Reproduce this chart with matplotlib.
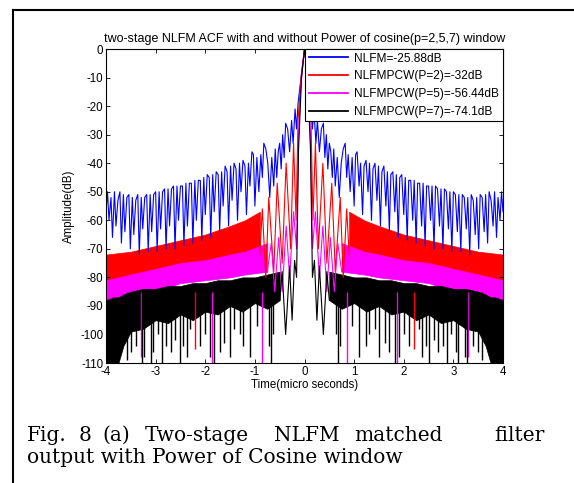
import numpy as np
import matplotlib.pyplot as plt
from matplotlib.lines import Line2D

plt.rcParams['font.family'] = ['Liberation Sans', 'DejaVu Sans']
plt.rcParams['axes.unicode_minus'] = False

# values for t >= 0 (the ACF is symmetric, mirrored below)
blue_t = [0.00, 0.07, 0.13, 0.16, 0.19, 0.23, 0.26, 0.30, 0.34, 0.38, 0.41, 0.44,
          0.47, 0.50, 0.53, 0.56, 0.59, 0.62, 0.66, 0.70, 0.74, 0.78, 0.82, 0.85,
          0.88, 0.92, 0.96, 1.00, 1.03, 1.06, 1.10, 1.13, 1.17, 1.20, 1.24, 1.28,
          1.31, 1.35, 1.38, 1.42, 1.46, 1.49, 1.53, 1.56, 1.60, 1.64, 1.67, 1.71,
          1.74, 1.78, 1.82, 1.85, 1.89, 1.92, 1.96, 2.00, 2.03, 2.07, 2.10, 2.14,
          2.18, 2.21, 2.25, 2.28, 2.32, 2.36, 2.39, 2.43, 2.46, 2.50, 2.54, 2.57,
          2.61, 2.64, 2.68, 2.72, 2.75, 2.79, 2.82, 2.86, 2.90, 2.93, 2.97, 3.00,
          3.04, 3.08, 3.11, 3.15, 3.18, 3.22, 3.26, 3.29, 3.33, 3.36, 3.40, 3.44,
          3.47, 3.51, 3.54, 3.58, 3.62, 3.65, 3.69, 3.72, 3.76, 3.80, 3.83, 3.87,
          3.90, 3.94, 3.97, 4.00]
blue_db = [0, -10, -19, -28, -21, -33, -25, -36, -28, -26, -38, -30,
           -42, -33, -36, -45, -35, -48, -38, -52, -40, -35, -33, -45,
           -37, -50, -38, -55, -37, -36, -48, -40, -58, -41, -39, -50,
           -40, -60, -42, -40, -53, -41, -62, -43, -41, -55, -43, -64,
           -44, -43, -57, -44, -66, -45, -44, -58, -45, -67, -46, -46,
           -60, -46, -68, -47, -47, -62, -47, -69, -48, -48, -60, -48,
           -70, -48, -49, -62, -49, -70, -49, -50, -63, -50, -71, -50,
           -51, -64, -51, -71, -51, -52, -63, -52, -72, -51, -53, -65,
           -52, -70, -51, -52, -64, -51, -68, -50, -53, -62, -50, -66,
           -52, -60, -50, -57]

red_t = [0.00, 0.07, 0.13, 0.17, 0.22, 0.28, 0.37, 0.45, 0.55, 0.62, 0.72, 0.78, 0.85, 0.90]
red_db = [0, -10, -25, -60, -33, -70, -40, -75, -47, -78, -52, -80, -56, -72]
red_band_t = [0.90, 1.2, 1.5, 2.0, 2.5, 3.0, 3.5, 4.0]
red_upper = [-57, -60, -62, -65, -67, -69, -71, -72]
red_lower = [-72, -73, -74, -76, -77, -79, -80, -82]
red_null_t = [2.2]
red_null_db = [-105]

mag_t = [0.00, 0.07, 0.12, 0.16, 0.22, 0.30, 0.37, 0.45, 0.52, 0.60, 0.67, 0.75]
mag_db = [0, -12, -30, -70, -57, -80, -62, -85, -66, -85, -68, -78]
mag_band_t = [0.75, 1.2, 1.5, 2.0, 2.5, 3.0, 3.5, 4.0]
mag_upper = [-68, -71, -72, -74, -75, -77, -79, -81]
mag_lower = [-78, -79, -80, -81, -82, -85, -87, -90]
mag_null_t = [0.85, 1.87, 3.3]
mag_null_db = [-110, -110, -108]

blk_t = [0.00, 0.06, 0.12, 0.16, 0.20, 0.25, 0.30, 0.38, 0.45, 0.50]
blk_db = [0, -10, -35, -80, -74, -95, -76, -100, -78, -88]
blk_band_t = [0.50, 0.75, 1.0, 1.25, 1.5, 1.75, 2.0, 2.25, 2.5, 2.75, 3.0, 3.25,
              3.5, 3.65, 3.75, 3.85, 4.0]
blk_upper = [-78, -79, -80, -80, -81, -81, -82, -82, -83, -83, -84, -84,
             -85, -86, -87, -87, -88]
blk_lower = [-88, -91, -89, -92, -90, -93, -92, -95, -93, -96, -95, -98,
             -99, -104, -110, -110, -110]
blk_null_t = [0.63, 0.68, 0.72, 0.95, 1.10, 1.23, 1.30, 1.42, 1.50, 1.63, 1.70, 1.83,
              1.90, 2.00, 2.10, 2.30, 2.37, 2.45, 2.50, 2.60, 2.70, 2.80, 2.87, 2.95,
              3.05, 3.10, 3.23, 3.27, 3.40, 3.50, 3.57]
blk_null_db = [-100, -110, -104, -97, -108, -104, -100, -98, -108, -103, -106, -110,
               -108, -100, -104, -98, -108, -104, -110, -102, -106, -104, -110, -100,
               -106, -110, -108, -110, -104, -106, -109]

legend_labels = ['NLFM=-25.88dB', 'NLFMPCW(P=2)=-32dB',
                 'NLFMPCW(P=5)=-56.44dB', 'NLFMPCW(P=7)=-74.1dB']


def mirror(t, v):
    t = np.asarray(t, dtype=float)
    v = np.asarray(v, dtype=float)
    return np.concatenate([-t[::-1], t[1:]]), np.concatenate([v[::-1], v[1:]])


def draw(ax, t, db, band_t, up, lo, null_t, null_db, color, label):
    x, y = mirror(t, db)
    ax.plot(x, y, color=color, lw=0.8, label=label)
    if band_t is None:
        return
    bt = np.asarray(band_t)
    for s in (1, -1):
        ax.fill_between(s * bt, up, lo, color=color, lw=0.5, edgecolor=color)
    nt = np.asarray(null_t)
    ax.vlines(np.concatenate([-nt, nt]), null_db + null_db, -85, color=color, lw=1.0)


fig = plt.figure(figsize=(5.74, 4.83), dpi=100)
ax = fig.add_axes([0.1847, 0.2484, 0.6916, 0.6501])

draw(ax, blue_t, blue_db, None, None, None, None, None, 'blue', legend_labels[0])
draw(ax, red_t, red_db, red_band_t, red_upper, red_lower, red_null_t, red_null_db,
     'red', legend_labels[1])
draw(ax, mag_t, mag_db, mag_band_t, mag_upper, mag_lower, mag_null_t, mag_null_db,
     'magenta', legend_labels[2])
draw(ax, blk_t, blk_db, blk_band_t, blk_upper, blk_lower, blk_null_t, blk_null_db,
     'black', legend_labels[3])

ax.set_xlim(-4, 4)
ax.set_ylim(-110, 0)
ax.set_xticks(np.arange(-4, 5, 1))
ax.set_yticks(np.arange(-110, 1, 10))
ax.tick_params(direction='in', length=3, width=0.6, labelsize=8.3, top=True, right=True, pad=2)
for sp in ax.spines.values():
    sp.set_linewidth(0.8)
ax.set_title('two-stage NLFM ACF with and without Power of cosine(p=2,5,7) window',
             fontsize=9, pad=5)
ax.set_xlabel('Time(micro seconds)', fontsize=8.3, labelpad=1)
ax.set_ylabel('Amplitude(dB)', fontsize=8.3, labelpad=4)

leg = ax.legend(loc='upper right', fontsize=8.6, fancybox=False, framealpha=1,
                edgecolor='black', borderaxespad=0, handlelength=3.3,
                labelspacing=0.48, borderpad=0.3, handletextpad=0.5)
leg.get_frame().set_linewidth(0.8)
for ln in leg.get_lines():
    ln.set_linewidth(1.3)

# page border lines from the scanned figure
fig.add_artist(Line2D([13 / 574, 13 / 574], [0, 1 - 10 / 483], color='black', lw=1.5))
fig.add_artist(Line2D([13 / 574, 1], [1 - 10 / 483, 1 - 10 / 483], color='black', lw=1.5))

# justified caption, first line placed word by word
cap_words = ['Fig.', '8', '(a)', 'Two-stage', 'NLFM', 'matched', 'filter']
cap_x = [27, 79, 102, 145, 274, 354, 545]
for w, xp in zip(cap_words, cap_x):
    fig.text(xp / 574, 1 - 441 / 483, w, fontsize=14.5, family='DejaVu Serif',
             ha='right' if w == 'filter' else 'left', va='baseline')
fig.text(27 / 574, 1 - 463 / 483, 'output with Power of Cosine window', fontsize=14.5,
         family='DejaVu Serif', ha='left', va='baseline')

fig.savefig('out.png', dpi=100)
